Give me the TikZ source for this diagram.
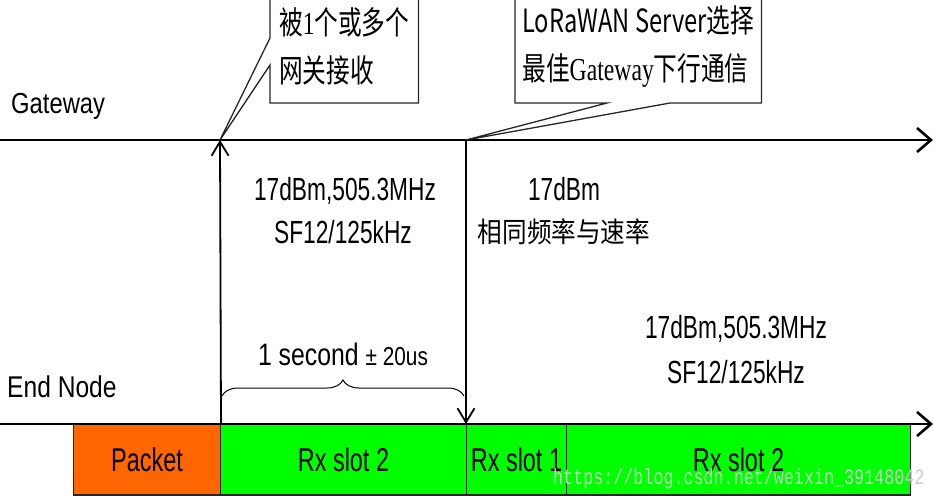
\documentclass[tikz,border=0pt]{standalone}
\usepackage{fontspec}
\setmainfont{Liberation Sans}
\newfontfamily\fLabel[FakeStretch=0.82]{Liberation Sans}
\newfontfamily\fInfo[FakeStretch=0.71]{Liberation Sans}
\newfontfamily\fBrace[FakeStretch=0.80]{Liberation Sans}
\newfontfamily\fCjkInfo[FakeStretch=0.88]{Noto Sans CJK SC}
\newfontfamily\fSerif[FakeStretch=0.74]{Liberation Serif}
\newfontfamily\fCjkSerif[FakeStretch=0.74]{Noto Sans CJK SC}
\newfontfamily\fMark[FakeStretch=0.76]{Liberation Mono}
\usetikzlibrary{arrows.meta,calc,decorations.pathreplacing}
\definecolor{pktorange}{RGB}{255,102,0}
\definecolor{slotgreen}{RGB}{0,255,0}
\tikzset{
  axisline/.style={line width=2.6pt,-{Straight Barb[length=14pt,width=24pt]}},
  evtline/.style={line width=1.8pt,-{Straight Barb[length=14pt,width=17pt]}},
  slotbox/.style={draw=black!85,line width=1pt,minimum height=70pt,inner sep=0pt,
    anchor=north west,font=\fontsize{33}{36}\selectfont\fInfo},
  infotext/.style={inner sep=0pt,font=\fontsize{32}{36}\selectfont\fInfo},
  cjkinfo/.style={inner sep=0pt,font=\fontsize{28}{32}\selectfont\fCjkInfo},
  axislabel/.style={inner sep=0pt,anchor=base west},
  callbox/.style={inner sep=0pt,align=left,anchor=south west,
    font=\fontsize{32}{48}\selectfont\fCjkSerif},
  calloutline/.style={line width=1.3pt,draw=black!85,line join=miter},
}
\begin{document}
\begin{tikzpicture}[x=1pt,y=-1pt]
\useasboundingbox (0,0) rectangle (934,496);
% axis coordinates
\coordinate (gs) at (0,140);
\coordinate (ge) at (933,140);
\coordinate (es) at (0,424);
\coordinate (ee) at (933,424);
\coordinate (g1) at (220,140);
\coordinate (g2) at (466,140);
% slot boxes
\node[slotbox,fill=pktorange,minimum width=147pt] (pkt) at (73,424) {Packet};
\node[slotbox,fill=slotgreen,minimum width=246pt] (rxa) at (220,424) {Rx slot 2};
\node[slotbox,fill=slotgreen,minimum width=100pt] (rxb) at (466,424) {Rx slot 1};
\node[slotbox,fill=slotgreen,minimum width=344pt] (rxc) at (566,424) {Rx slot 2};
\draw[line width=2pt,black!85] (pkt.south west) -- (rxc.south east);
% watermark
\node[inner sep=0pt,anchor=west,text=black!20,font=\fontsize{22}{24}\selectfont\fMark] (wm) at (553,479) {https://blog.csdn.net/weixin\_39148042};
% axes
\draw[axisline] (gs) -- (ge);
\draw[axisline] (es) -- (ee);
\node[axislabel,font=\fontsize{29}{32}\selectfont\fLabel] (gwl) at (11,113) {Gateway};
\node[axislabel,font=\fontsize{30}{32}\selectfont\fLabel] (enl) at (7,397) {End Node};
% event arrows
\draw[evtline] (pkt.north east) -- (g1);
\draw[evtline] (g2) -- (rxb.north west);
% info texts
\node[infotext,anchor=base] (t1) at (345,200) {17dBm,505.3MHz};
\node[infotext,anchor=base] (t2) at (343,243) {SF12/125kHz};
\node[infotext,anchor=base] (t3) at (564,200) {17dBm};
\node[cjkinfo,anchor=base] (t4) at (564,242) {相同频率与速率};
\node[infotext,anchor=base] (t5) at (736,338) {17dBm,505.3MHz};
\node[infotext,anchor=base] (t6) at (736,383) {SF12/125kHz};
% brace
\coordinate (bl) at (222,396);
\coordinate (br) at (464,396);
\draw[line width=1pt,decorate,decoration={brace,amplitude=16pt,aspect=0.5}] (bl) -- (br);
\node[inner sep=0pt,anchor=base,font=\fBrace] (dur) at (343,365)
  {\fontsize{31}{32}\selectfont 1 second \fontsize{26}{32}\selectfont ± 20us};
% callout 1
\node[callbox,minimum width=148pt,minimum height=112pt] (c1) at (270,103)
  {被{\fSerif 1}个或多个\\网关接收};
\coordinate (c1a) at ($(c1.south west)+(0,-65)$);
\coordinate (c1b) at ($(c1.south west)+(0,-38)$);
\draw[calloutline] (c1.north west) -- (c1a) -- (g1) -- (c1b) -- (c1.south west)
  -- (c1.south east) -- (c1.north east);
% callout 2
\node[callbox,minimum width=246pt,minimum height=112pt] (c2) at (515,103)
  {LoRaWAN Server{\fCjkSerif 选择}\\最佳{\fSerif Gateway}下行通信};
\coordinate (c2a) at ($(c2.south west)+(92,0)$);
\coordinate (c2b) at ($(c2.south west)+(155,0)$);
\draw[calloutline] (c2.north west) -- (c2.south west) -- (c2a) -- (g2) -- (c2b)
  -- (c2.south east) -- (c2.north east);
\end{tikzpicture}
\end{document}
